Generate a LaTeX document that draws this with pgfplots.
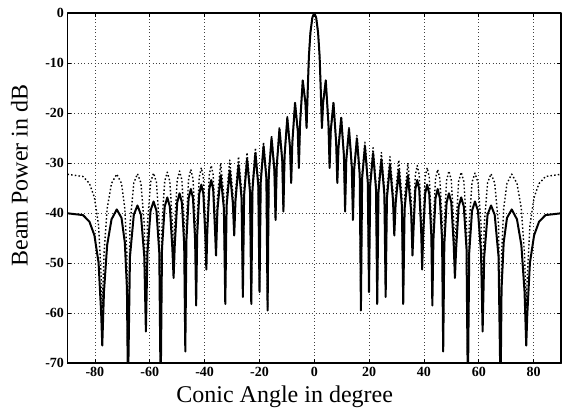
\documentclass[border=0pt]{standalone}
\usepackage{pgfplots}
\pgfplotsset{compat=1.18}
\usepackage{fontspec}
\setmainfont{Liberation Serif}

% Beam pattern of a 41-element line array, sampled per lobe (angle in degrees, power in dB)
% dotted: array factor alone; solid: with the element response included
\pgfplotstableread[row sep=\\]{
t p \\
-90 -32.26 \\ -84.339 -32.70 \\ -81.990 -34.10 \\ -80.186 -36.88 \\ -78.663 -42.46 \\ -77.707 -52.79 \\
-77.319 -59.1 \\ -76.698 -48.34 \\ -75.533 -39.09 \\ -73.941 -34.07 \\ -72.030 -32.23 \\ -70.299 -34.07 \\
-69.091 -39.09 \\ -68.322 -48.34 \\ -67.946 -72 \\ -67.214 -42.35 \\ -65.810 -33.99 \\ -64.480 -32.15 \\
-63.212 -33.99 \\ -61.997 -42.35 \\ -61.408 -57.7 \\ -60.833 -42.22 \\ -59.706 -33.86 \\ -58.612 -32.02 \\
-57.552 -33.86 \\ -56.525 -42.22 \\ -56.024 -72 \\ -55.528 -42.04 \\ -54.553 -33.68 \\ -53.599 -31.84 \\
-52.666 -33.68 \\ -51.753 -42.04 \\ -51.305 -48.3 \\ -50.861 -41.80 \\ -49.984 -33.44 \\ -49.122 -31.60 \\
-48.274 -33.44 \\ -47.441 -41.80 \\ -47.030 -63.5 \\ -46.622 -41.50 \\ -45.814 -33.14 \\ -45.018 -31.30 \\
-44.231 -33.14 \\ -43.457 -41.50 \\ -43.073 -54.9 \\ -42.701 -41.14 \\ -41.936 -32.78 \\ -41.189 -30.94 \\
-40.450 -32.78 \\ -39.729 -41.14 \\ -39.357 -48.2 \\ -39.004 -40.71 \\ -38.280 -32.35 \\ -37.570 -30.51 \\
-36.870 -32.35 \\ -36.182 -40.71 \\ -35.829 -45.8 \\ -35.322 -37.05 \\ -34.141 -30.00 \\ -32.959 -36.66 \\
-32.452 -56.0 \\ -31.964 -36.49 \\ -30.824 -29.41 \\ -29.684 -36.04 \\ -29.196 -42.6 \\ -28.723 -35.83 \\
-27.619 -28.72 \\ -26.514 -35.31 \\ -26.041 -55.3 \\ -25.580 -35.07 \\ -24.506 -27.91 \\ -23.431 -34.45 \\
-22.970 -57.0 \\ -22.519 -34.17 \\ -21.468 -26.96 \\ -20.417 -33.45 \\ -19.966 -54.9 \\ -19.524 -33.11 \\
-18.493 -25.84 \\ -17.461 -32.26 \\ -17.019 -58.8 \\ -16.584 -31.85 \\ -15.568 -24.49 \\ -14.552 -30.81 \\
-14.117 -40.9 \\ -13.687 -30.32 \\ -12.685 -22.83 \\ -11.682 -29.02 \\ -11.252 -39.4 \\ -10.826 -28.39 \\
-9.834 -20.72 \\ -8.841 -26.68 \\ -8.415 -33.8 \\ -7.993 -25.83 \\ -7.007 -17.85 \\ -6.021 -23.41 \\
-5.599 -30.9 \\ -5.179 -22.12 \\ -4.198 -13.45 \\ -3.216 -18.01 \\ -2.796 -23.0 \\ -2.376 -15.39 \\
-1.957 -8.68 \\ -1.398 -3.92 \\ -0.699 -0.91 \\
0 0 \\
0.699 -0.91 \\ 1.398 -3.92 \\ 1.957 -8.68 \\ 2.376 -15.39 \\ 2.796 -23.0 \\ 3.216 -18.01 \\
4.198 -13.45 \\ 5.179 -22.12 \\ 5.599 -30.9 \\ 6.021 -23.41 \\ 7.007 -17.85 \\ 7.993 -25.83 \\
8.415 -33.8 \\ 8.841 -26.68 \\ 9.834 -20.72 \\ 10.826 -28.39 \\ 11.252 -39.4 \\ 11.682 -29.02 \\
12.685 -22.83 \\ 13.687 -30.32 \\ 14.117 -40.9 \\ 14.552 -30.81 \\ 15.568 -24.49 \\ 16.584 -31.85 \\
17.019 -58.8 \\ 17.461 -32.26 \\ 18.493 -25.84 \\ 19.524 -33.11 \\ 19.966 -54.9 \\ 20.417 -33.45 \\
21.468 -26.96 \\ 22.519 -34.17 \\ 22.970 -57.0 \\ 23.431 -34.45 \\ 24.506 -27.91 \\ 25.580 -35.07 \\
26.041 -55.3 \\ 26.514 -35.31 \\ 27.619 -28.72 \\ 28.723 -35.83 \\ 29.196 -42.6 \\ 29.684 -36.04 \\
30.824 -29.41 \\ 31.964 -36.49 \\ 32.452 -56.0 \\ 32.959 -36.66 \\ 34.141 -30.00 \\ 35.322 -37.05 \\
35.829 -45.8 \\ 36.182 -40.71 \\ 36.870 -32.35 \\ 37.570 -30.51 \\ 38.280 -32.35 \\ 39.004 -40.71 \\
39.357 -48.2 \\ 39.729 -41.14 \\ 40.450 -32.78 \\ 41.189 -30.94 \\ 41.936 -32.78 \\ 42.701 -41.14 \\
43.073 -54.9 \\ 43.457 -41.50 \\ 44.231 -33.14 \\ 45.018 -31.30 \\ 45.814 -33.14 \\ 46.622 -41.50 \\
47.030 -63.5 \\ 47.441 -41.80 \\ 48.274 -33.44 \\ 49.122 -31.60 \\ 49.984 -33.44 \\ 50.861 -41.80 \\
51.305 -48.3 \\ 51.753 -42.04 \\ 52.666 -33.68 \\ 53.599 -31.84 \\ 54.553 -33.68 \\ 55.528 -42.04 \\
56.024 -72 \\ 56.525 -42.22 \\ 57.552 -33.86 \\ 58.612 -32.02 \\ 59.706 -33.86 \\ 60.833 -42.22 \\
61.408 -57.7 \\ 61.997 -42.35 \\ 63.212 -33.99 \\ 64.480 -32.15 \\ 65.810 -33.99 \\ 67.214 -42.35 \\
67.946 -72 \\ 68.322 -48.34 \\ 69.091 -39.09 \\ 70.299 -34.07 \\ 72.030 -32.23 \\ 73.941 -34.07 \\
75.533 -39.09 \\ 76.698 -48.34 \\ 77.319 -59.1 \\ 77.707 -52.79 \\ 78.663 -42.46 \\ 80.186 -36.88 \\
81.990 -34.10 \\ 84.339 -32.70 \\ 90 -32.26 \\
}\arrayfactor

\pgfplotstableread[row sep=\\]{
t p \\
-90 -40.06 \\ -84.339 -40.42 \\ -81.990 -41.75 \\ -80.186 -44.45 \\ -78.663 -49.96 \\ -77.707 -60.24 \\
-77.319 -66.5 \\ -76.698 -55.73 \\ -75.533 -46.40 \\ -73.941 -41.27 \\ -72.030 -39.29 \\ -70.299 -40.98 \\
-69.091 -45.90 \\ -68.322 -55.07 \\ -67.946 -76 \\ -67.214 -48.70 \\ -65.810 -40.34 \\ -64.480 -38.50 \\
-63.212 -40.34 \\ -61.997 -48.70 \\ -61.408 -63.7 \\ -60.833 -47.90 \\ -59.706 -39.54 \\ -58.612 -37.70 \\
-57.552 -39.54 \\ -56.525 -47.90 \\ -56.024 -76 \\ -55.528 -47.09 \\ -54.553 -38.73 \\ -53.599 -36.89 \\
-52.666 -38.73 \\ -51.753 -47.09 \\ -51.305 -53.0 \\ -50.861 -46.26 \\ -49.984 -37.90 \\ -49.122 -36.06 \\
-48.274 -37.90 \\ -47.441 -46.26 \\ -47.030 -67.7 \\ -46.622 -45.40 \\ -45.814 -37.04 \\ -45.018 -35.20 \\
-44.231 -37.04 \\ -43.457 -45.40 \\ -43.073 -58.5 \\ -42.701 -44.52 \\ -41.936 -36.16 \\ -41.189 -34.32 \\
-40.450 -36.16 \\ -39.729 -44.52 \\ -39.357 -51.3 \\ -39.004 -43.61 \\ -38.280 -35.25 \\ -37.570 -33.41 \\
-36.870 -35.25 \\ -36.182 -43.61 \\ -35.829 -48.5 \\ -35.322 -39.50 \\ -34.141 -32.45 \\ -32.959 -39.11 \\
-32.452 -58.2 \\ -31.964 -38.54 \\ -30.824 -31.46 \\ -29.684 -38.09 \\ -29.196 -44.5 \\ -28.723 -37.51 \\
-27.619 -30.40 \\ -26.514 -36.99 \\ -26.041 -56.8 \\ -25.580 -36.41 \\ -24.506 -29.25 \\ -23.431 -35.79 \\
-22.970 -58.2 \\ -22.519 -35.21 \\ -21.468 -28.00 \\ -20.417 -34.49 \\ -19.966 -55.8 \\ -19.524 -33.89 \\
-18.493 -26.62 \\ -17.461 -33.04 \\ -17.019 -59.5 \\ -16.584 -32.41 \\ -15.568 -25.05 \\ -14.552 -31.37 \\
-14.117 -41.4 \\ -13.687 -30.70 \\ -12.685 -23.21 \\ -11.682 -29.40 \\ -11.252 -39.7 \\ -10.826 -28.62 \\
-9.834 -20.95 \\ -8.841 -26.91 \\ -8.415 -34.0 \\ -7.993 -25.95 \\ -7.007 -17.97 \\ -6.021 -23.53 \\
-5.599 -31.0 \\ -5.179 -22.16 \\ -4.198 -13.49 \\ -3.216 -18.05 \\ -2.796 -23.0 \\ -2.376 -15.40 \\
-1.957 -8.68 \\ -1.398 -3.92 \\ -0.699 -0.91 \\
0 0 \\
0.699 -0.91 \\ 1.398 -3.92 \\ 1.957 -8.68 \\ 2.376 -15.40 \\ 2.796 -23.0 \\ 3.216 -18.05 \\
4.198 -13.49 \\ 5.179 -22.16 \\ 5.599 -31.0 \\ 6.021 -23.53 \\ 7.007 -17.97 \\ 7.993 -25.95 \\
8.415 -34.0 \\ 8.841 -26.91 \\ 9.834 -20.95 \\ 10.826 -28.62 \\ 11.252 -39.7 \\ 11.682 -29.40 \\
12.685 -23.21 \\ 13.687 -30.70 \\ 14.117 -41.4 \\ 14.552 -31.37 \\ 15.568 -25.05 \\ 16.584 -32.41 \\
17.019 -59.5 \\ 17.461 -33.04 \\ 18.493 -26.62 \\ 19.524 -33.89 \\ 19.966 -55.8 \\ 20.417 -34.49 \\
21.468 -28.00 \\ 22.519 -35.21 \\ 22.970 -58.2 \\ 23.431 -35.79 \\ 24.506 -29.25 \\ 25.580 -36.41 \\
26.041 -56.8 \\ 26.514 -36.99 \\ 27.619 -30.40 \\ 28.723 -37.51 \\ 29.196 -44.5 \\ 29.684 -38.09 \\
30.824 -31.46 \\ 31.964 -38.54 \\ 32.452 -58.2 \\ 32.959 -39.11 \\ 34.141 -32.45 \\ 35.322 -39.50 \\
35.829 -48.5 \\ 36.182 -43.61 \\ 36.870 -35.25 \\ 37.570 -33.41 \\ 38.280 -35.25 \\ 39.004 -43.61 \\
39.357 -51.3 \\ 39.729 -44.52 \\ 40.450 -36.16 \\ 41.189 -34.32 \\ 41.936 -36.16 \\ 42.701 -44.52 \\
43.073 -58.5 \\ 43.457 -45.40 \\ 44.231 -37.04 \\ 45.018 -35.20 \\ 45.814 -37.04 \\ 46.622 -45.40 \\
47.030 -67.7 \\ 47.441 -46.26 \\ 48.274 -37.90 \\ 49.122 -36.06 \\ 49.984 -37.90 \\ 50.861 -46.26 \\
51.305 -53.0 \\ 51.753 -47.09 \\ 52.666 -38.73 \\ 53.599 -36.89 \\ 54.553 -38.73 \\ 55.528 -47.09 \\
56.024 -76 \\ 56.525 -47.90 \\ 57.552 -39.54 \\ 58.612 -37.70 \\ 59.706 -39.54 \\ 60.833 -47.90 \\
61.408 -63.7 \\ 61.997 -48.70 \\ 63.212 -40.34 \\ 64.480 -38.50 \\ 65.810 -40.34 \\ 67.214 -48.70 \\
67.946 -76 \\ 68.322 -55.07 \\ 69.091 -45.90 \\ 70.299 -40.98 \\ 72.030 -39.29 \\ 73.941 -41.27 \\
75.533 -46.40 \\ 76.698 -55.73 \\ 77.319 -66.5 \\ 77.707 -60.24 \\ 78.663 -49.96 \\ 80.186 -44.45 \\
81.990 -41.75 \\ 84.339 -40.42 \\ 90 -40.06 \\
}\beampattern

\begin{document}
\begin{tikzpicture}
\begin{axis}[
  at={(0,0)}, anchor=south west,
  scale only axis, width=493.5pt, height=350pt,
  xmin=-90, xmax=90, ymin=-70, ymax=0,
  xtick={-80,-60,-40,-20,0,20,40,60,80},
  xticklabels={-80,-60,-40,-20,0,20,40,60,80},
  ytick={-70,-60,-50,-40,-30,-20,-10,0},
  yticklabels={-70,-60,-50,-40,-30,-20,-10,0},
  tick pos=both, tick align=inside, major tick length=4pt,
  tick style={black, line width=0.8pt},
  tick label style={font=\fontsize{14}{14}\selectfont\bfseries},
  xticklabel style={yshift=-1pt},
  axis line style={black, line width=1.1pt},
  grid=major,
  grid style={black!75, line width=0.6pt, dash pattern=on 0.8pt off 2.6pt},
  xlabel={Conic Angle in degree},
  ylabel={Beam Power in dB},
  label style={font=\fontsize{24}{28}\selectfont},
  xlabel style={at={(axis description cs:0.44,0)}, anchor=center, yshift=-34pt},
  ylabel style={at={(axis description cs:-0.0973,0.536)}, anchor=center},
  line join=round,
]
\addplot[black, line width=1.4pt, dash pattern=on 1.5pt off 2.2pt] table[x=t, y=p] {\arrayfactor};
\addplot[black, line width=2pt] table[x=t, y=p] {\beampattern};
\end{axis}
\pgfresetboundingbox
\path (-67.5pt,-47pt) rectangle (494.5pt,363pt);
\end{tikzpicture}
\end{document}
